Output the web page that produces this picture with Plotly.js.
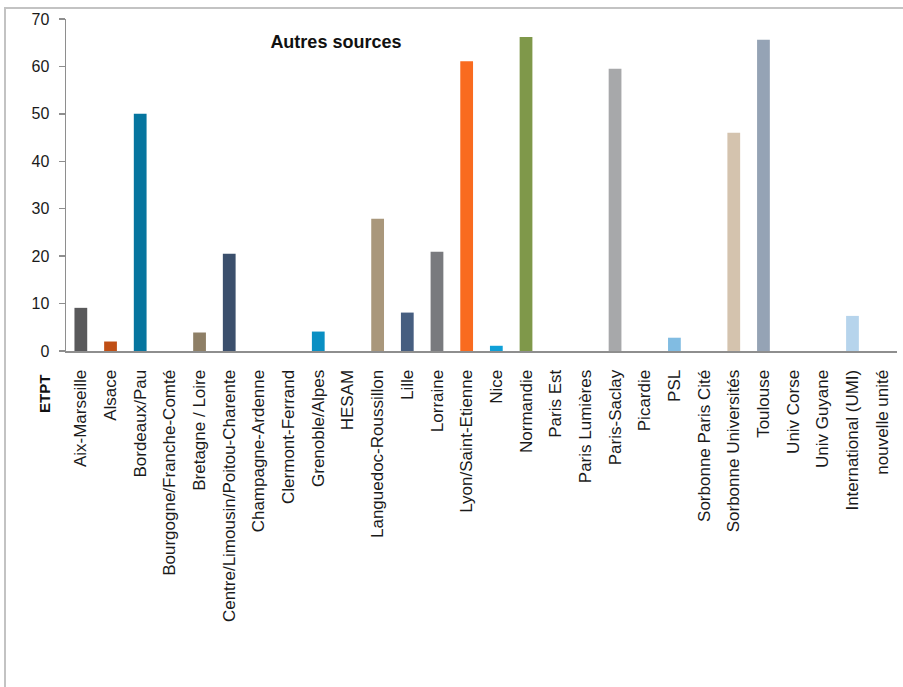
<!DOCTYPE html>
<html>
<head>
<meta charset="utf-8">
<script src="https://cdn.plot.ly/plotly-3.0.1.min.js"></script>
<style>
  html, body { margin: 0; padding: 0; background: #fff; }
  #wrap { position: relative; width: 903px; height: 687px; overflow: hidden; }
  #chart { position: absolute; left: 0; top: 0; width: 903px; height: 687px; }
  #frame { position: absolute; left: 4px; top: 7px; width: 920px; height: 700px;
           border-left: 2px solid #c3c3c3; border-top: 2px solid #c3c3c3; pointer-events: none; }
</style>
</head>
<body>
<div id="wrap">
  <div id="chart"></div>
  <div id="frame"></div>
</div>
<script>
// Regions / sites
const categories = [
  "Aix-Marseille", "Alsace", "Bordeaux/Pau", "Bourgogne/Franche-Comté", "Bretagne / Loire",
  "Centre/Limousin/Poitou-Charente", "Champagne-Ardenne", "Clermont-Ferrand", "Grenoble/Alpes",
  "HESAM", "Languedoc-Roussillon", "Lille", "Lorraine", "Lyon/Saint-Etienne", "Nice",
  "Normandie", "Paris Est", "Paris Lumières", "Paris-Saclay", "Picardie", "PSL",
  "Sorbonne Paris Cité", "Sorbonne Universités", "Toulouse", "Univ Corse", "Univ Guyane",
  "International (UMI)", "nouvelle unité"
];

// ETPT financed by other sources
const etpt = [
  9.1, 2.0, 50.0, 0, 3.9,
  20.5, 0, 0, 4.1,
  0, 27.9, 8.1, 20.9, 61.1, 1.1,
  66.2, 0, 0, 59.5, 0, 2.8,
  0, 46.0, 65.6, 0, 0,
  7.4, 0
];

// One colour per site
const barColors = [
  "#59595b", "#c04f15", "#05759f", "#7a8fa8", "#8e7f66",
  "#3b4f6c", "#9a9a9a", "#c9b38f", "#098fc3",
  "#7d6a52", "#a9977b", "#465e80", "#797a7e", "#f96b1f", "#0fa0d8",
  "#7f984a", "#5b7fa6", "#b4a48c", "#a7a8aa", "#6f8fb0", "#81bce2",
  "#c8b89c", "#d4c3ae", "#95a3b5", "#a0a0a0", "#8aa8c8",
  "#b6d4ec", "#cccccc"
];

const yTicks = [0, 10, 20, 30, 40, 50, 60, 70];

const FONT = "Liberation Sans, Arial, sans-serif";

const trace = {
  type: "bar",
  x: categories,
  y: etpt,
  marker: { color: barColors, line: { width: 0 } },
  hoverinfo: "x+y"
};

const layout = {
  width: 903,
  height: 687,
  margin: { l: 66, r: 6, t: 19, b: 336, pad: 0 },
  paper_bgcolor: "rgba(0,0,0,0)",
  plot_bgcolor: "rgba(0,0,0,0)",
  bargap: 0.57,
  showlegend: false,
  font: { family: FONT, color: "#1a1a1a" },
  title: {
    text: "<b>Autres sources</b>",
    font: { family: FONT, size: 18, color: "#111" },
    xref: "container", x: 0.372, xanchor: "center",
    yref: "container", y: 1 - 42 / 687, yanchor: "middle"
  },
  xaxis: {
    type: "category",
    tickangle: -90,
    tickfont: { family: FONT, size: 17, color: "#1a1a1a" },
    ticks: "",
    ticklabelstandoff: 10,
    showgrid: false,
    zeroline: false,
    showline: true,
    linecolor: "#8e8e8e",
    linewidth: 2,
    fixedrange: true
  },
  yaxis: {
    range: [0, 70],
    tickvals: yTicks,
    ticktext: yTicks.map(String),
    tickfont: { family: FONT, size: 16, color: "#1a1a1a" },
    ticks: "outside",
    ticklen: 6,
    tickwidth: 1.5,
    tickcolor: "#8e8e8e",
    ticklabelstandoff: 6,
    showgrid: false,
    zeroline: false,
    showline: true,
    linecolor: "#8e8e8e",
    linewidth: 1.5,
    fixedrange: true
  },
  annotations: [{
    text: "<b>ETPT</b>",
    xref: "paper", yref: "paper",
    x: (44 - 66) / 831, y: (351 - 394) / 332,
    xanchor: "center", yanchor: "middle",
    textangle: -90,
    showarrow: false,
    font: { family: FONT, size: 15, color: "#111" }
  }]
};

Plotly.newPlot("chart", [trace], layout, { staticPlot: true, displayModeBar: false });
</script>
</body>
</html>
